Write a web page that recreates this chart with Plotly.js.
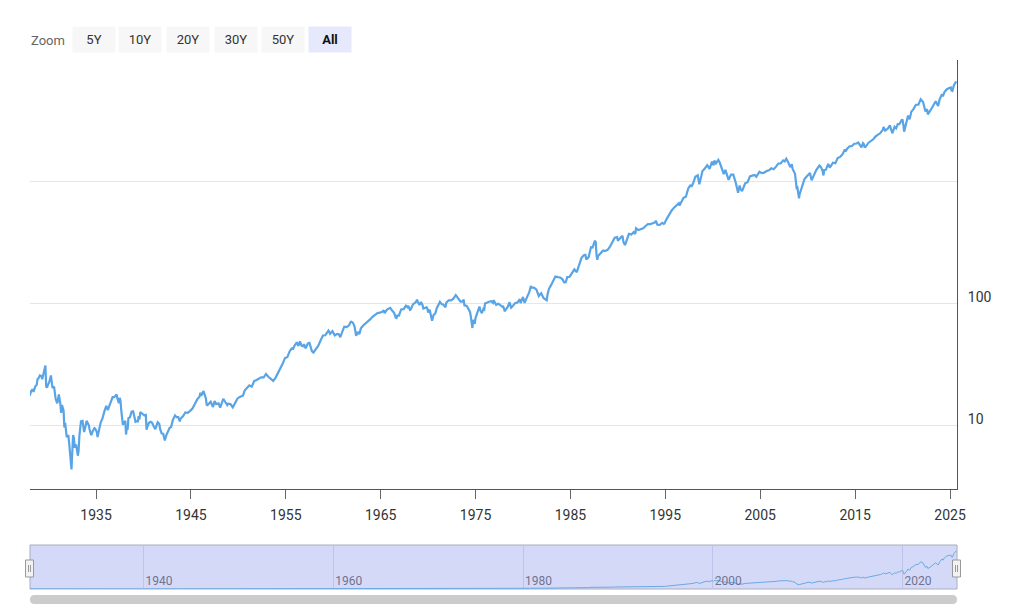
<!DOCTYPE html>
<html>
<head>
<meta charset="utf-8">
<script src="https://cdn.plot.ly/plotly-3.0.1.min.js"></script>
<style>html,body{margin:0;padding:0;background:#fff;}#chart{width:1024px;height:614px;}</style>
</head>
<body>
<div id="chart"></div>
<script>
// ---- Data (monthly closes) ----
const dates = [
'1928-01','1928-03','1928-05','1928-06','1928-08','1928-10','1928-11','1928-12',
'1929-02','1929-04','1929-05','1929-07','1929-09','1929-10','1929-11','1929-12',
'1930-02','1930-04','1930-06','1930-08','1930-09','1930-10','1930-12',
'1931-02','1931-04','1931-05','1931-06','1931-08','1931-09','1931-10','1931-12',
'1932-02','1932-03','1932-04','1932-05','1932-06','1932-08','1932-09','1932-10','1932-12',
'1933-02','1933-03','1933-04','1933-05','1933-06','1933-08','1933-10','1933-12',
'1934-01','1934-02','1934-04','1934-05','1934-07','1934-09','1934-11','1934-12',
'1935-02','1935-03','1935-05','1935-07','1935-09','1935-11','1935-12',
'1936-02','1936-04','1936-06','1936-08','1936-10','1936-12',
'1937-02','1937-03','1937-04','1937-06','1937-07','1937-08','1937-09','1937-10','1937-11','1937-12',
'1938-02','1938-03','1938-04','1938-05','1938-06','1938-08','1938-10','1938-12',
'1939-01','1939-03','1939-04','1939-06','1939-07','1939-08','1939-09','1939-12',
'1940-02','1940-04','1940-05','1940-06','1940-08','1940-10','1940-12',
'1941-02','1941-04','1941-07','1941-09','1941-10','1941-12',
'1942-02','1942-04','1942-06','1942-08','1942-10','1942-12',
'1943-02','1943-05','1943-07','1943-09','1943-11','1943-12',
'1944-03','1944-06','1944-09','1944-12',
'1945-03','1945-06','1945-09','1945-12',
'1946-01','1946-02','1946-05','1946-06','1946-08','1946-09','1946-10','1946-12',
'1947-02','1947-05','1947-07','1947-09','1947-12',
'1948-02','1948-06','1948-09','1948-11','1948-12',
'1949-03','1949-06','1949-09','1949-12',
'1950-03','1950-06','1950-07','1950-09','1950-12',
'1951-03','1951-06','1951-09','1951-12',
'1952-03','1952-06','1952-09','1952-12',
'1953-03','1953-06','1953-09','1953-12',
'1954-03','1954-06','1954-09','1954-12',
'1955-03','1955-06','1955-09','1955-10','1955-12',
'1956-03','1956-05','1956-07','1956-09','1956-11','1956-12',
'1957-02','1957-05','1957-07','1957-10','1957-12',
'1958-03','1958-06','1958-09','1958-12',
'1959-03','1959-06','1959-07','1959-09','1959-12',
'1960-03','1960-06','1960-08','1960-10','1960-12',
'1961-03','1961-06','1961-09','1961-11','1961-12',
'1962-02','1962-04','1962-06','1962-08','1962-10','1962-12',
'1963-03','1963-06','1963-09','1963-11','1963-12',
'1964-03','1964-06','1964-09','1964-12',
'1965-03','1965-05','1965-06','1965-09','1965-12',
'1966-01','1966-03','1966-06','1966-08','1966-09','1966-10','1966-12',
'1967-03','1967-06','1967-09','1967-11','1967-12',
'1968-02','1968-03','1968-06','1968-09','1968-11','1968-12',
'1969-02','1969-04','1969-06','1969-07','1969-09','1969-11','1969-12',
'1970-01','1970-03','1970-05','1970-06','1970-08','1970-10','1970-12',
'1971-02','1971-04','1971-06','1971-08','1971-11','1971-12',
'1972-03','1972-06','1972-09','1972-12',
'1973-01','1973-03','1973-06','1973-08','1973-10','1973-11','1973-12',
'1974-02','1974-04','1974-06','1974-07','1974-08','1974-09','1974-10','1974-11','1974-12',
'1975-01','1975-03','1975-06','1975-07','1975-09','1975-11','1975-12',
'1976-01','1976-03','1976-06','1976-09','1976-11','1976-12',
'1977-03','1977-06','1977-09','1977-11','1977-12',
'1978-02','1978-03','1978-06','1978-08','1978-10','1978-12',
'1979-03','1979-06','1979-09','1979-10','1979-12',
'1980-01','1980-03','1980-06','1980-09','1980-11','1980-12',
'1981-03','1981-06','1981-09','1981-12',
'1982-03','1982-07','1982-08','1982-10','1982-12',
'1983-03','1983-06','1983-09','1983-12',
'1984-03','1984-05','1984-07','1984-09','1984-12',
'1985-03','1985-06','1985-09','1985-12',
'1986-03','1986-06','1986-08','1986-09','1986-12',
'1987-03','1987-05','1987-08','1987-09','1987-10','1987-11','1987-12',
'1988-03','1988-06','1988-09','1988-12',
'1989-03','1989-06','1989-09','1989-12',
'1990-01','1990-06','1990-07','1990-08','1990-10','1990-12',
'1991-03','1991-06','1991-09','1991-11','1991-12',
'1992-03','1992-06','1992-09','1992-12',
'1993-03','1993-06','1993-09','1993-12',
'1994-01','1994-03','1994-06','1994-09','1994-11','1994-12',
'1995-03','1995-06','1995-09','1995-12',
'1996-03','1996-06','1996-07','1996-09','1996-12',
'1997-03','1997-06','1997-09','1997-10','1997-12',
'1998-03','1998-06','1998-08','1998-09','1998-12',
'1999-03','1999-06','1999-09','1999-12',
'2000-02','2000-03','2000-05','2000-08','2000-10','2000-12',
'2001-03','2001-05','2001-09','2001-12',
'2002-03','2002-06','2002-07','2002-09','2002-11','2002-12',
'2003-02','2003-06','2003-09','2003-12',
'2004-03','2004-06','2004-08','2004-12',
'2005-03','2005-06','2005-09','2005-12',
'2006-03','2006-06','2006-09','2006-12',
'2007-03','2007-06','2007-08','2007-10','2007-12',
'2008-03','2008-05','2008-06','2008-09','2008-10','2008-11','2008-12',
'2009-01','2009-02','2009-03','2009-06','2009-09','2009-12',
'2010-04','2010-06','2010-09','2010-12',
'2011-04','2011-06','2011-08','2011-09','2011-10','2011-12',
'2012-03','2012-05','2012-09','2012-12',
'2013-03','2013-06','2013-09','2013-12',
'2014-01','2014-03','2014-06','2014-09','2014-12',
'2015-03','2015-05','2015-08','2015-09','2015-11','2015-12',
'2016-01','2016-02','2016-06','2016-09','2016-12',
'2017-03','2017-06','2017-09','2017-12',
'2018-01','2018-03','2018-06','2018-09','2018-10','2018-12',
'2019-03','2019-05','2019-07','2019-09','2019-12',
'2020-01','2020-02','2020-03','2020-06','2020-08','2020-10','2020-12',
'2021-03','2021-06','2021-09','2021-12',
'2022-03','2022-06','2022-08','2022-09','2022-12',
'2023-03','2023-07','2023-10','2023-12',
'2024-03','2024-04','2024-06','2024-09','2024-12',
'2025-02','2025-03','2025-04','2025-06','2025-08','2025-09'
];
const values = [
17.6,19.3,20.0,19.0,20.9,21.7,24.2,24.4,
25.9,25.6,24.1,28.5,31.3,21.0,20.6,21.5,
23.1,25.9,20.5,21.0,18.7,16.6,15.3,
18.1,15.0,12.8,14.8,13.4,9.7,10.6,8.1,
8.4,7.3,5.8,4.5,4.4,8.4,8.0,6.8,6.9,
5.7,6.2,8.3,9.6,10.9,11.0,8.9,10.1,
11.0,10.7,10.1,9.3,8.4,9.1,9.6,9.5,
8.9,8.1,9.5,10.7,11.4,13.0,13.4,
14.6,13.5,14.7,15.9,17.2,17.2,
18.1,18.1,16.9,15.4,17.0,16.0,13.3,11.9,10.2,10.6,
11.0,8.5,9.7,9.3,11.6,11.8,13.1,13.2,
12.3,10.8,10.9,10.9,12.0,11.3,13.0,12.5,
12.2,12.3,9.3,9.9,10.6,10.8,10.6,
9.9,9.4,10.7,10.4,9.5,8.7,
8.6,7.6,8.4,8.9,9.6,9.8,
11.1,12.2,11.8,11.8,10.9,11.5,
12.0,12.9,12.8,13.3,
13.9,15.1,16.5,17.4,
18.7,17.7,19.3,18.4,16.8,14.9,14.8,15.3,
15.8,14.3,16.0,15.1,15.3,
14.1,16.7,15.5,14.8,15.2,
15.1,14.2,15.6,16.8,
17.3,17.7,17.8,19.5,20.4,
21.5,21.0,23.3,23.8,
24.4,25.0,25.0,26.6,
25.3,24.1,23.4,24.8,
26.9,29.2,32.3,36.0,
36.6,41.0,43.7,42.3,45.5,
48.5,45.2,49.4,45.4,45.1,46.7,
43.3,47.4,47.9,41.1,40.0,
42.1,45.2,50.1,55.2,
55.4,58.5,60.5,56.9,59.9,
55.3,56.9,56.5,53.4,58.1,
65.1,64.6,66.7,71.3,71.6,
69.9,65.2,54.8,59.1,56.5,63.1,
66.6,69.4,71.7,73.2,75.0,
78.9,81.7,84.2,84.8,
86.2,88.9,84.1,90.0,92.4,
92.9,89.2,84.7,77.1,76.6,80.2,80.3,
90.2,90.6,96.7,94.0,96.5,
89.4,90.2,99.6,102.7,108.4,103.9,
98.1,103.7,97.7,91.8,93.1,93.8,92.1,
85.0,89.6,76.6,72.7,81.5,83.3,92.2,
96.8,104.0,99.7,99.0,94.0,102.1,
107.2,107.1,110.6,118.1,
116.0,111.5,104.3,104.3,108.3,96.0,97.6,
96.2,90.3,86.0,79.3,72.2,63.5,73.9,70.0,68.6,
77.0,83.4,95.2,88.8,83.9,91.2,90.2,
100.9,102.8,104.3,105.2,102.1,107.5,
98.4,100.5,96.5,94.8,95.1,
87.0,89.2,95.5,103.3,93.2,96.1,
101.6,102.9,109.3,101.8,107.9,
114.2,102.1,114.2,125.5,140.5,135.8,
136.0,131.2,116.2,122.6,
112.0,107.1,119.5,133.7,140.6,
153.0,168.1,166.1,164.9,
159.2,150.6,150.7,166.1,167.2,
180.7,191.9,182.1,211.3,
238.9,250.8,252.9,231.3,242.2,
291.7,290.1,329.8,321.8,251.8,230.3,247.1,
258.9,273.5,271.9,277.7,
294.9,318.0,349.2,353.4,
329.1,358.0,356.2,322.6,304.0,330.2,
375.2,371.2,387.9,375.2,417.1,
403.7,408.1,417.8,435.7,
451.7,450.5,458.9,466.5,
481.6,445.8,444.3,462.7,453.7,459.3,
500.7,544.8,584.4,615.9,
645.5,670.6,639.9,687.3,740.7,
757.1,885.1,947.3,914.6,970.4,
1101.8,1133.8,957.3,1017.0,1229.2,
1286.4,1372.7,1282.7,1469.3,
1366.4,1498.6,1420.6,1517.7,1429.4,1320.3,
1160.3,1255.8,1040.9,1148.1,
1147.4,989.8,911.6,815.3,936.3,879.8,
841.2,974.5,996.0,1111.9,
1126.2,1140.8,1104.2,1211.9,
1180.6,1191.3,1228.8,1248.3,
1294.9,1270.2,1335.9,1418.3,
1420.9,1503.4,1474.0,1549.4,1468.4,
1322.7,1400.4,1280.0,1166.4,968.8,896.2,903.3,
825.9,735.1,797.9,919.3,1057.1,1115.1,
1186.7,1030.7,1141.2,1257.6,
1363.6,1320.6,1218.9,1131.4,1253.3,1257.6,
1408.5,1310.3,1440.7,1426.2,
1569.2,1606.3,1681.6,1848.4,
1782.6,1872.3,1960.2,1972.3,2058.9,
2067.9,2107.4,1972.2,1920.0,2080.4,2043.9,
1940.2,1932.2,2098.9,2168.3,2238.8,
2362.7,2423.4,2519.4,2673.6,
2823.8,2640.9,2718.4,2914.0,2711.7,2506.9,
2834.4,2752.1,2980.4,2976.7,3230.8,
3225.5,2954.2,2584.6,3100.3,3500.3,3270.0,3756.1,
3972.9,4297.5,4307.5,4766.2,
4530.4,3785.4,3955.0,3585.6,3839.5,
4109.3,4589.0,4193.8,4769.8,
5254.4,5035.7,5460.5,5762.5,5881.6,
5954.5,5611.9,5569.1,6205.0,6460.3,6688.5
];
const yTickVals = [10, 100, 1000];
const yTickText = ['10', '100', ''];
const zoomButtons = ['5Y', '10Y', '20Y', '30Y', '50Y', 'All'];
const selectedButton = 'All';
const xRange = ['1928-01-17', '2025-09-27'];

// ---- Layout helpers (pixel -> paper) ----
const W = 1024, H = 614;
const L = 30, R = 957, T = 60, B = 589;
const MAIN_BOTTOM = 489, NAV_TOP = 545;
const px = x => (x - L) / (R - L);
const py = y => (B - y) / (B - T);

const FONT = 'Roboto, "Open Sans", sans-serif';
const BLUE = '#58a4e6';

const traces = [
  {x: dates, y: values, xaxis: 'x', yaxis: 'y', type: 'scatter', mode: 'lines',
   line: {color: BLUE, width: 2.2}, hoverinfo: 'skip'},
  {x: dates, y: values, xaxis: 'x2', yaxis: 'y2', type: 'scatter', mode: 'lines',
   line: {color: '#6aa9e3', width: 1}, hoverinfo: 'skip'}
];

// Range selector buttons
const btnLefts = [72, 118, 166, 214, 261, 308];
const annotations = [{
  xref: 'paper', yref: 'paper', x: px(29), y: py(40), xanchor: 'left', yanchor: 'middle',
  text: 'Zoom', showarrow: false, font: {family: FONT, size: 13, color: '#666666'}
}];
zoomButtons.forEach((b, i) => {
  const sel = b === selectedButton;
  annotations.push({
    xref: 'paper', yref: 'paper', x: px(btnLefts[i]), y: py(39.5), xanchor: 'left', yanchor: 'middle',
    text: sel ? '<b>' + b + '</b>' : b, showarrow: false, width: 42, height: 25, borderpad: 0,
    bgcolor: sel ? '#e6e8fb' : '#f7f7f7', align: 'center', valign: 'middle',
    font: {family: FONT, size: 13, color: sel ? '#111111' : '#333333'}
  });
});

// Navigator decorations
const shapes = [
  {type: 'rect', xref: 'paper', yref: 'paper', x0: 0, x1: 1, y0: py(B), y1: py(NAV_TOP),
   fillcolor: '#d5d9f8', line: {color: '#a9acc0', width: 1}, layer: 'below'}
];
function handle(cx) {
  shapes.push({type: 'rect', xref: 'paper', yref: 'paper', x0: px(cx - 4), x1: px(cx + 4),
    y0: py(577), y1: py(560), fillcolor: '#f2f2f2', line: {color: '#999999', width: 1}});
  [-1, 1].forEach(d => shapes.push({type: 'line', xref: 'paper', yref: 'paper',
    x0: px(cx + d), x1: px(cx + d), y0: py(565), y1: py(572), line: {color: '#999999', width: 1}}));
}
handle(29.5);
handle(956.5);
// Scrollbar (rounded)
(function () {
  const x0 = px(30), x1 = px(957), yt = py(595), yb = py(604), ym = py(599.5);
  const rx = 4.5 / (R - L);
  shapes.push({type: 'path', xref: 'paper', yref: 'paper', fillcolor: '#cccccc', line: {width: 0},
    path: `M ${x0 + rx},${yt} L ${x1 - rx},${yt} Q ${x1},${yt} ${x1},${ym} Q ${x1},${yb} ${x1 - rx},${yb} ` +
          `L ${x0 + rx},${yb} Q ${x0},${yb} ${x0},${ym} Q ${x0},${yt} ${x0 + rx},${yt} Z`});
})();

const layout = {
  width: W, height: H,
  margin: {l: L, r: W - R, t: T, b: H - B, pad: 0},
  paper_bgcolor: '#ffffff', plot_bgcolor: 'rgba(0,0,0,0)',
  showlegend: false, hovermode: false,
  font: {family: FONT, size: 14, color: '#333333'},
  xaxis: {
    type: 'date', range: xRange, domain: [0, 1], anchor: 'y',
    tick0: '1935-01-01', dtick: 'M120', tickformat: '%Y',
    ticks: 'outside', ticklen: 9, tickwidth: 1, tickcolor: '#666666',
    showline: true, linecolor: '#555555', linewidth: 1,
    showgrid: false, zeroline: false, fixedrange: true,
    tickfont: {family: FONT, size: 14, color: '#333333'}, ticklabelstandoff: 4
  },
  yaxis: {
    type: 'log', range: [Math.log10(3.04), 4], domain: [py(MAIN_BOTTOM), 1], anchor: 'x',
    side: 'right', tickmode: 'array', tickvals: yTickVals, ticktext: yTickText,
    ticks: '', showline: true, linecolor: '#555555', linewidth: 1,
    showgrid: true, gridcolor: '#e6e6e6', gridwidth: 1, zeroline: false, fixedrange: true,
    tickfont: {family: FONT, size: 14, color: '#333333'},
    ticklabelstandoff: 7, ticklabelshift: -7
  },
  xaxis2: {
    type: 'date', range: xRange, domain: [0, 1], anchor: 'y2',
    tick0: '1940-01-01', dtick: 'M240', tickformat: '%Y',
    ticks: '', ticklabelposition: 'inside right', showline: false,
    ticklabelstandoff: -4, ticklabelshift: 2,
    showgrid: true, gridcolor: '#bfc3ea', gridwidth: 1, zeroline: false, fixedrange: true,
    tickfont: {family: FONT, size: 12, color: '#6f7390'}
  },
  yaxis2: {
    type: 'linear', range: [0, 7700], domain: [0, py(NAV_TOP)], anchor: 'x2',
    showticklabels: false, ticks: '', showgrid: false, zeroline: false, showline: false, fixedrange: true
  },
  annotations: annotations,
  shapes: shapes
};

Plotly.newPlot('chart', traces, layout, {displayModeBar: false, staticPlot: true});
</script>
</body>
</html>
